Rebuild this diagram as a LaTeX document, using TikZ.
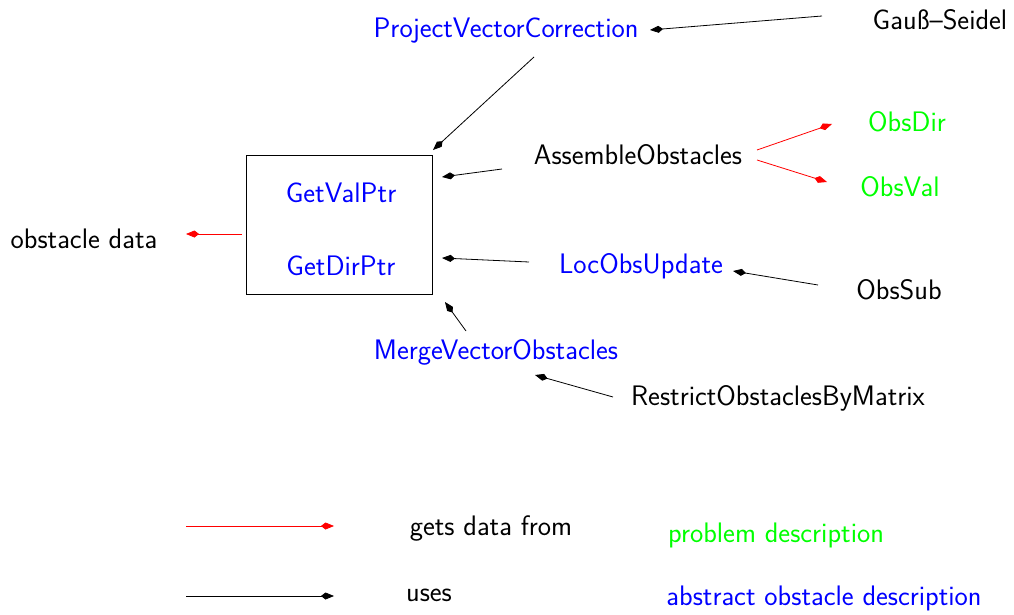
\documentclass[tikz,border=0pt]{standalone}
\usetikzlibrary{arrows.meta}
\begin{document}
\begin{tikzpicture}[x=1pt,y=-1pt,
  every node/.style={font=\sffamily\fontsize{28.2}{32}\selectfont, inner sep=0pt, anchor=center},
  blk/.style={text=black},
  abs/.style={text=blue},
  prob/.style={text=green},
  uses/.style={draw=black, line width=0.8pt, -{Kite[length=13pt,width=7pt,inset=4.5pt]}},
  gets/.style={draw=red, line width=0.8pt, -{Kite[length=13pt,width=7pt,inset=4.5pt]}}]
\useasboundingbox (0,0) rectangle (1014,615);

% central box with the two access routines
\draw[line width=0.8pt] (246,155) rectangle (432,294);
\node[abs] (val) at (341,193) {GetValPtr};
\node[abs] (dir) at (341,266) {GetDirPtr};

% routines and data around it
\node[abs] (pvc) at (506,31) {ProjectVectorCorrection};
\node[blk] (gs) at (940,20) {Gau\ss{}--Seidel};
\node[blk] (od) at (84,239) {obstacle data};
\node[blk] (ao) at (638,155) {AssembleObstacles};
\node[prob] (odir) at (907,122) {ObsDir};
\node[prob] (oval) at (900,187) {ObsVal};
\node[abs] (lou) at (641,266) {LocObsUpdate};
\node[blk] (osub) at (899,290) {ObsSub};
\node[abs] (mvo) at (496,352) {MergeVectorObstacles};
\node[blk] (rom) at (778,398) {RestrictObstaclesByMatrix};

% connector end points
\coordinate (gsT) at (822,16);   \coordinate (pvcH) at (650,30);
\coordinate (pvcT) at (534,57);  \coordinate (boxTR) at (433,150);
\coordinate (boxL) at (242,234); \coordinate (odH) at (186,234);
\coordinate (aoT) at (502,169);  \coordinate (boxA) at (442,177);
\coordinate (aoR1) at (757,150); \coordinate (odirH) at (832,124);
\coordinate (aoR2) at (757,160); \coordinate (ovalH) at (827,182);
\coordinate (louT) at (529,262); \coordinate (boxL2) at (442,258);
\coordinate (osubT) at (818,285);\coordinate (louH) at (733,271);
\coordinate (mvoT) at (466,331); \coordinate (boxBR) at (445,302);
\coordinate (romT) at (613,397); \coordinate (mvoH) at (535,375);

\draw[uses] (gsT) -- (pvcH);
\draw[uses] (pvcT) -- (boxTR);
\draw[gets] (boxL) -- (odH);
\draw[uses] (aoT) -- (boxA);
\draw[gets] (aoR1) -- (odirH);
\draw[gets] (aoR2) -- (ovalH);
\draw[uses] (louT) -- (boxL2);
\draw[uses] (osubT) -- (louH);
\draw[uses] (mvoT) -- (boxBR);
\draw[uses] (romT) -- (mvoH);

% legend
\coordinate (l1a) at (186,526); \coordinate (l1b) at (334,526);
\coordinate (l2a) at (186,596); \coordinate (l2b) at (334,596);
\draw[gets] (l1a) -- (l1b);
\draw[uses] (l2a) -- (l2b);
\node[blk] (lg1) at (491,528) {gets data from};
\node[blk] (lg2) at (429,595) {uses};
\node[prob] (lg3) at (776,535) {problem description};
\node[abs] (lg4) at (824,598) {abstract obstacle description};
\end{tikzpicture}
\end{document}
